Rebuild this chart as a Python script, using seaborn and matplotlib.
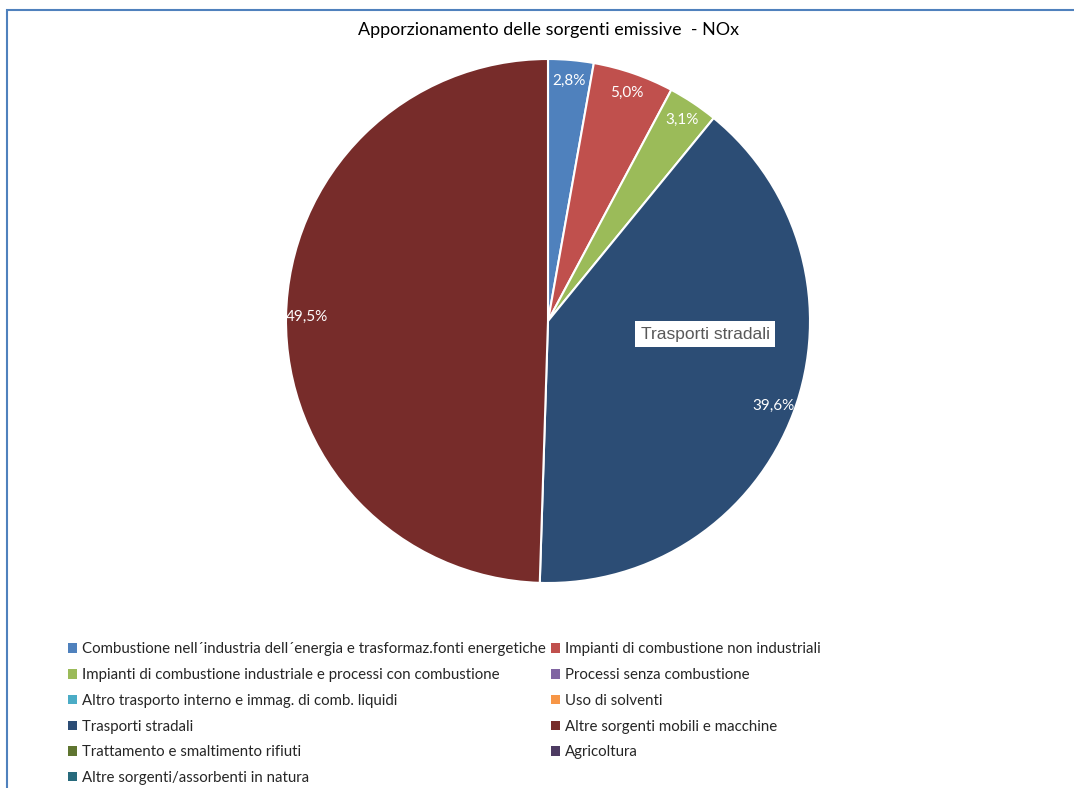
import matplotlib
matplotlib.use('Agg')
import matplotlib.pyplot as plt
import seaborn as sns
from matplotlib.patches import Rectangle, Patch

sns.set_theme(style="white")
plt.rcParams['font.family'] = ['Lato', 'DejaVu Sans']

categorie = [
    "Combustione nell´industria dell´energia e trasformaz.fonti energetiche",
    "Impianti di combustione non industriali",
    "Impianti di combustione industriale e processi con combustione",
    "Processi senza combustione",
    "Altro trasporto interno e immag. di comb. liquidi",
    "Uso di solventi",
    "Trasporti stradali",
    "Altre sorgenti mobili e macchine",
    "Trattamento e smaltimento rifiuti",
    "Agricoltura",
    "Altre sorgenti/assorbenti in natura",
]
valori = [2.8, 5.0, 3.1, 0.0, 0.0, 0.0, 39.6, 49.5, 0.0, 0.0, 0.0]
colori = ["#4F81BD", "#C0504D", "#9BBB59", "#8064A2", "#4BACC6", "#F79646",
          "#2C4D75", "#772C2A", "#5F7530", "#4D3B62", "#276A7C"]

W, H = 1074, 788
fig = plt.figure(figsize=(W / 100, H / 100), dpi=100)

# cornice del grafico
fig.patches.append(Rectangle((7 / W, -0.05), 1.1, 1 - 10 / H + 0.05, transform=fig.transFigure,
                             fill=False, edgecolor="#4F81BD", linewidth=1.5))

# asse della torta: centro (548, 321), raggio 262 px
r = 262
ax = fig.add_axes([(548 - r) / W, 1 - (321 + r) / H, 2 * r / W, 2 * r / H])

# solo le fette non nulle
idx = [i for i, v in enumerate(valori) if v > 0]
wedges, texts, autotexts = ax.pie(
    [valori[i] for i in idx], colors=[colori[i] for i in idx],
    startangle=90, counterclock=False,
    autopct=lambda p: f"{p:.1f}%".replace(".", ","), pctdistance=0.92,
    wedgeprops=dict(edgecolor="white", linewidth=1.5),
    textprops=dict(color="white", fontsize=11),
)
ax.set_aspect("equal")
ax.set_xlim(-1, 1)
ax.set_ylim(-1, 1)

ax.text(0.60, -0.05, "Trasporti stradali", ha="center", va="center", fontsize=12.5,
        color="#595959", family=['Liberation Sans', 'DejaVu Sans'],
        bbox=dict(facecolor="white", edgecolor="none", pad=4))

fig.text(548 / W, 1 - 30 / H, "Apporzionamento delle sorgenti emissive  - NOx",
         ha="center", va="center", fontsize=12.9, color="black")

# legenda su due colonne, ordinata per righe
ordine = list(range(0, len(categorie), 2)) + list(range(1, len(categorie), 2))
handles = [Patch(facecolor=colori[i], edgecolor="none") for i in ordine]
etichette = [categorie[i] for i in ordine]
fig.legend(handles, etichette, loc="upper left", bbox_to_anchor=(54 / W, 1 - 629 / H),
           ncol=2, frameon=False, fontsize=10.8, handlelength=0.6, handleheight=0.6,
           handletextpad=0.35, columnspacing=0.35, labelspacing=0.78)

fig.savefig("out.png", dpi=100)
